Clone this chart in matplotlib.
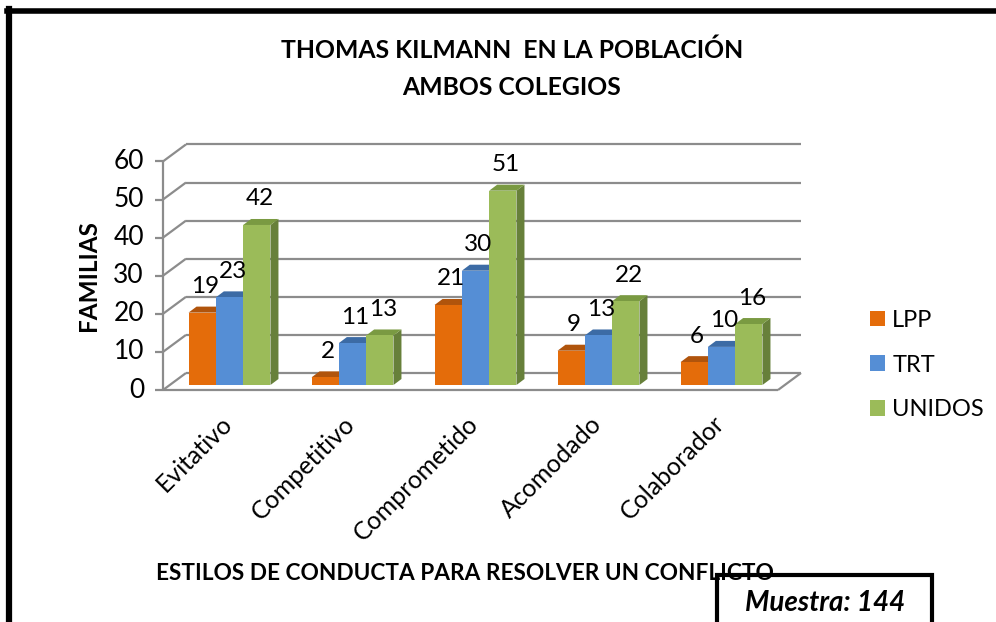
import matplotlib
matplotlib.use("Agg")
import matplotlib.pyplot as plt
from matplotlib.patches import Polygon, Patch, Rectangle
from matplotlib.lines import Line2D

plt.rcParams["font.family"] = ["Lato", "DejaVu Sans"]

categories = ["Evitativo", "Competitivo", "Comprometido", "Acomodado", "Colaborador"]
series = ["LPP", "TRT", "UNIDOS"]
lpp = [19, 2, 21, 9, 6]
trt = [23, 11, 30, 13, 10]
unidos = [42, 13, 51, 22, 16]
yticks = [0, 10, 20, 30, 40, 50, 60]

front_colors = ["#E46C0A", "#558ED5", "#9BBB59"]
top_colors = ["#B0540C", "#3C6BA5", "#7A9A42"]
side_colors = ["#A04A06", "#3A649A", "#67803A"]

W, H = 996, 622
fig = plt.figure(figsize=(W / 100, H / 100), dpi=100)

# bar plane of the fake 3d box, in figure pixels
left, right, y0, y60 = 168, 783, 385, 156.4
ax = fig.add_axes([left / W, 1 - y0 / H, (right - left) / W, (y0 - y60) / H])
ax.set_xlim(-0.5, 4.5)
ax.set_ylim(0, 60)
ax.axis("off")

sx = (right - left) / 5.0      # pixels per category
sy = (y0 - y60) / 60.0         # pixels per unit


def shift(x, v, dx, dy):
    return x + dx / sx, v + dy / sy


FRONT = (-5, -5)
BACK = (18, 12)
grid_kw = dict(color="#8C8C8C", lw=1.6, solid_capstyle="butt", zorder=1)

# walls and floor
for v in yticks:
    bx0, bv = shift(-0.5, v, *BACK)
    bx1, _ = shift(4.5, v, *BACK)
    ax.plot([bx0, bx1], [bv, bv], clip_on=False, **grid_kw)
    fx, fv = shift(-0.5, v, *FRONT)
    ax.plot([fx, bx0], [fv, bv], clip_on=False, **grid_kw)
    tx, _ = shift(-0.5, v, FRONT[0] - 8, FRONT[1])
    ax.plot([tx, fx], [fv, fv], clip_on=False, **grid_kw)
    lx, _ = shift(-0.5, v, FRONT[0] - 19, FRONT[1])
    ax.text(lx, fv, str(v), ha="right", va="center", fontsize=19)

fx, f0 = shift(-0.5, 0, *FRONT)
_, f60 = shift(-0.5, 60, *FRONT)
ax.plot([fx, fx], [f0, f60], clip_on=False, **grid_kw)
fx1, _ = shift(4.5, 0, *FRONT)
bx1, b0 = shift(4.5, 0, *BACK)
ax.plot([fx, fx1], [f0, f0], clip_on=False, **grid_kw)
ax.plot([fx1, bx1], [f0, b0], clip_on=False, **grid_kw)

# bars
width = 0.222
depth = (8, 6)
for i in range(len(categories)):
    for k, vals in enumerate([lpp, trt, unidos]):
        h = vals[i]
        x0 = i + (k - 1) * width - width / 2
        x1 = x0 + width
        ddx = depth[0] / sx
        ddv = depth[1] / sy
        z = 3 + k
        ax.add_patch(Polygon([(x1, 0), (x1, h), (x1 + ddx, h + ddv), (x1 + ddx, ddv)],
                             closed=True, fc=side_colors[k], ec="none", zorder=z))
        ax.add_patch(Polygon([(x0, h), (x1, h), (x1 + ddx, h + ddv), (x0 + ddx, h + ddv)],
                             closed=True, fc=top_colors[k], ec="none", zorder=z))
        ax.bar(x0, h, width=width, align="edge", color=front_colors[k], zorder=z)
        ax.annotate(str(h), xy=(x0 + width / 2, h), xytext=(3, 26),
                    textcoords="offset pixels", ha="center", va="center",
                    fontsize=17.5, zorder=10)

for i, cat in enumerate(categories):
    ax.annotate(cat, xy=(i, 0), xytext=(-1, -35), textcoords="offset pixels",
                rotation=45, rotation_mode="anchor", ha="right", va="center",
                fontsize=18)

handles = [Patch(facecolor=c, edgecolor="none") for c in front_colors]
fig.legend(handles, series, loc="center left", bbox_to_anchor=(870 / W, 1 - 365 / H),
           frameon=False, fontsize=17, handlelength=0.64, handleheight=0.64,
           handletextpad=0.3, labelspacing=1.0, borderpad=0, borderaxespad=0)

fig.text(512 / W, 1 - 69 / H, "THOMAS KILMANN  EN LA POBLACIÓN\nAMBOS COLEGIOS",
         ha="center", va="center", fontsize=17.8, fontweight="bold", linespacing=1.72)
fig.text(465 / W, 1 - 573 / H, "ESTILOS DE CONDUCTA PARA RESOLVER UN CONFLICTO",
         ha="center", va="center", fontsize=16.3, fontweight="bold")
fig.text(88 / W, 1 - 276 / H, "FAMILIAS", ha="center", va="center", rotation=90,
         fontsize=17.5, fontweight="bold")

# outer frame (left and top only visible)
fig.add_artist(Line2D([9 / W, 9 / W], [0, 1 - 9 / H], color="black", lw=4.5))
fig.add_artist(Line2D([7 / W, 1], [1 - 11 / H, 1 - 11 / H], color="black", lw=4))

# sample box
fig.add_artist(Rectangle((717 / W, -0.05), (932 - 717) / W, 0.05 + (1 - 575 / H),
                         fill=False, ec="black", lw=3))
fig.text(825 / W, 1 - 603 / H, "Muestra: 144", ha="center", va="center",
         fontsize=20, fontweight="bold", style="italic")

fig.savefig("out.png", dpi=100)
plt.close(fig)
